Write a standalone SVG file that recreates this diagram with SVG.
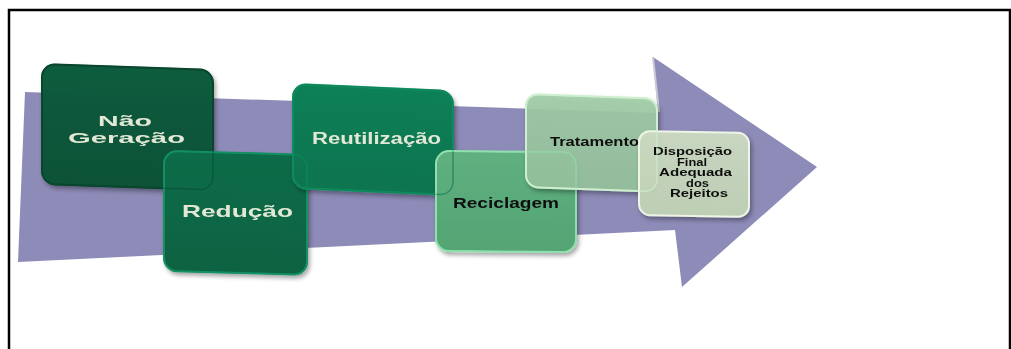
<svg xmlns="http://www.w3.org/2000/svg" width="1011" height="349" viewBox="0 0 1011 349">
<defs>
<style>
.t{font-family:"Liberation Sans",Arial,sans-serif;font-weight:bold;}
.lt{fill:#e2e8d5;}
.dk{fill:#111111;}
.box{stroke-width:2;}
.ghost{fill:none;stroke-width:1.5;opacity:0.55;}
.dp{font-size:10px;}
</style>
<filter id="sh" x="-10%" y="-10%" width="125%" height="125%">
<feDropShadow dx="2" dy="3" stdDeviation="2" flood-color="#000" flood-opacity="0.35"/>
</filter>
<linearGradient id="g1" x1="0" y1="0" x2="0" y2="1"><stop offset="0" stop-color="#0b5c3e"/><stop offset="1" stop-color="#095237"/></linearGradient>
<linearGradient id="g2" x1="0" y1="0" x2="0" y2="1"><stop offset="0" stop-color="#0c6c48"/><stop offset="1" stop-color="#0a6242"/></linearGradient>
<linearGradient id="g3" x1="0" y1="0" x2="0" y2="1"><stop offset="0" stop-color="#0d8057"/><stop offset="1" stop-color="#0b744f"/></linearGradient>
<linearGradient id="g4" x1="0" y1="0" x2="0" y2="1"><stop offset="0" stop-color="#5fb080"/><stop offset="1" stop-color="#54a474"/></linearGradient>
<linearGradient id="g5" x1="0" y1="0" x2="0" y2="1"><stop offset="0" stop-color="#a0cca6"/><stop offset="1" stop-color="#95c29c"/></linearGradient>
<linearGradient id="g6" x1="0" y1="0" x2="0" y2="1"><stop offset="0" stop-color="#cedcc3"/><stop offset="1" stop-color="#c2d4b6"/></linearGradient>
</defs>
<rect x="0" y="0" width="1011" height="349" fill="#ffffff"/>
<path d="M9 350 V10 H1010 V350" fill="none" stroke="#000" stroke-width="2.5"/>
<g id="arrow">
<polygon points="25,92 658,113 653,57 817,167 682,287 675,230 18,262" fill="#8d8bb7"/>
<line x1="653" y1="57" x2="659" y2="112" stroke="#c9c9d8" stroke-width="2"/>
</g>
<g id="node-nao-geracao" filter="url(#sh)">
<rect class="box" transform="translate(42,64) skewY(2)" x="0" y="0" width="171" height="120" rx="13" fill="url(#g1)" stroke="#07432c"/>
<text class="t lt" x="98" y="125.5" font-size="15.5" textLength="54" lengthAdjust="spacingAndGlyphs">Não</text>
<text class="t lt" x="68" y="142.5" font-size="15.5" textLength="117" lengthAdjust="spacingAndGlyphs">Geração</text>
</g>
<g id="node-reducao" filter="url(#sh)">
<rect class="box" transform="translate(164,151) skewY(1.5)" x="0" y="0" width="143" height="120" rx="13" fill="url(#g2)" stroke="#139063"/>
<text class="t lt" x="182" y="217" font-size="17" textLength="111" lengthAdjust="spacingAndGlyphs">Redução</text>
</g>
<rect class="ghost" transform="translate(42,64) skewY(2)" x="0" y="0" width="171" height="120" rx="13" stroke="#0a4a31"/>
<g id="node-reutilizacao" filter="url(#sh)">
<rect class="box" transform="translate(293,84) skewY(2.5)" x="0" y="0" width="160" height="104" rx="13" fill="url(#g3)" stroke="#14a06c"/>
<text class="t lt" x="312" y="144" font-size="16" textLength="129" lengthAdjust="spacingAndGlyphs">Reutilização</text>
</g>
<rect class="ghost" transform="translate(164,151) skewY(1.5)" x="0" y="0" width="143" height="120" rx="13" stroke="#139063"/>
<g id="node-reciclagem" filter="url(#sh)">
<rect class="box" transform="translate(436,151) skewY(0.5)" x="0" y="0" width="140" height="100" rx="13" fill="url(#g4)" stroke="#8fe0ad"/>
<text class="t dk" x="453" y="208" font-size="14" textLength="106" lengthAdjust="spacingAndGlyphs">Reciclagem</text>
</g>
<rect class="ghost" transform="translate(293,84) skewY(2.5)" x="0" y="0" width="160" height="104" rx="13" stroke="#0c6e4a"/>
<g id="node-tratamento" filter="url(#sh)">
<rect class="box" transform="translate(526,94) skewY(2)" x="0" y="0" width="131" height="93" rx="12" fill="url(#g5)" fill-opacity="0.9" stroke="#cdeecf"/>
<text class="t dk" x="550" y="146" font-size="12" textLength="89" lengthAdjust="spacingAndGlyphs">Tratamento</text>
</g>
<rect class="ghost" transform="translate(436,151) skewY(0.5)" x="0" y="0" width="140" height="100" rx="13" stroke="#8fe0ad"/>
<g id="node-disposicao" filter="url(#sh)">
<rect class="box" transform="translate(639,131) skewY(1)" x="0" y="0" width="110" height="84" rx="11" fill="url(#g6)" fill-opacity="0.92" stroke="#eef4e6"/>
<text class="t dk dp" x="653" y="155" textLength="79" lengthAdjust="spacingAndGlyphs">Disposição</text>
<text class="t dk dp" x="677" y="165.5" textLength="30" lengthAdjust="spacingAndGlyphs">Final</text>
<text class="t dk dp" x="659" y="176" textLength="73" lengthAdjust="spacingAndGlyphs">Adequada</text>
<text class="t dk dp" x="686" y="186.5" textLength="23" lengthAdjust="spacingAndGlyphs">dos</text>
<text class="t dk dp" x="670" y="197" textLength="58" lengthAdjust="spacingAndGlyphs">Rejeitos</text>
</g>
<rect class="ghost" transform="translate(526,94) skewY(2)" x="0" y="0" width="131" height="93" rx="12" stroke="#cdeecf"/>
<g id="connectors"></g>
</svg>
